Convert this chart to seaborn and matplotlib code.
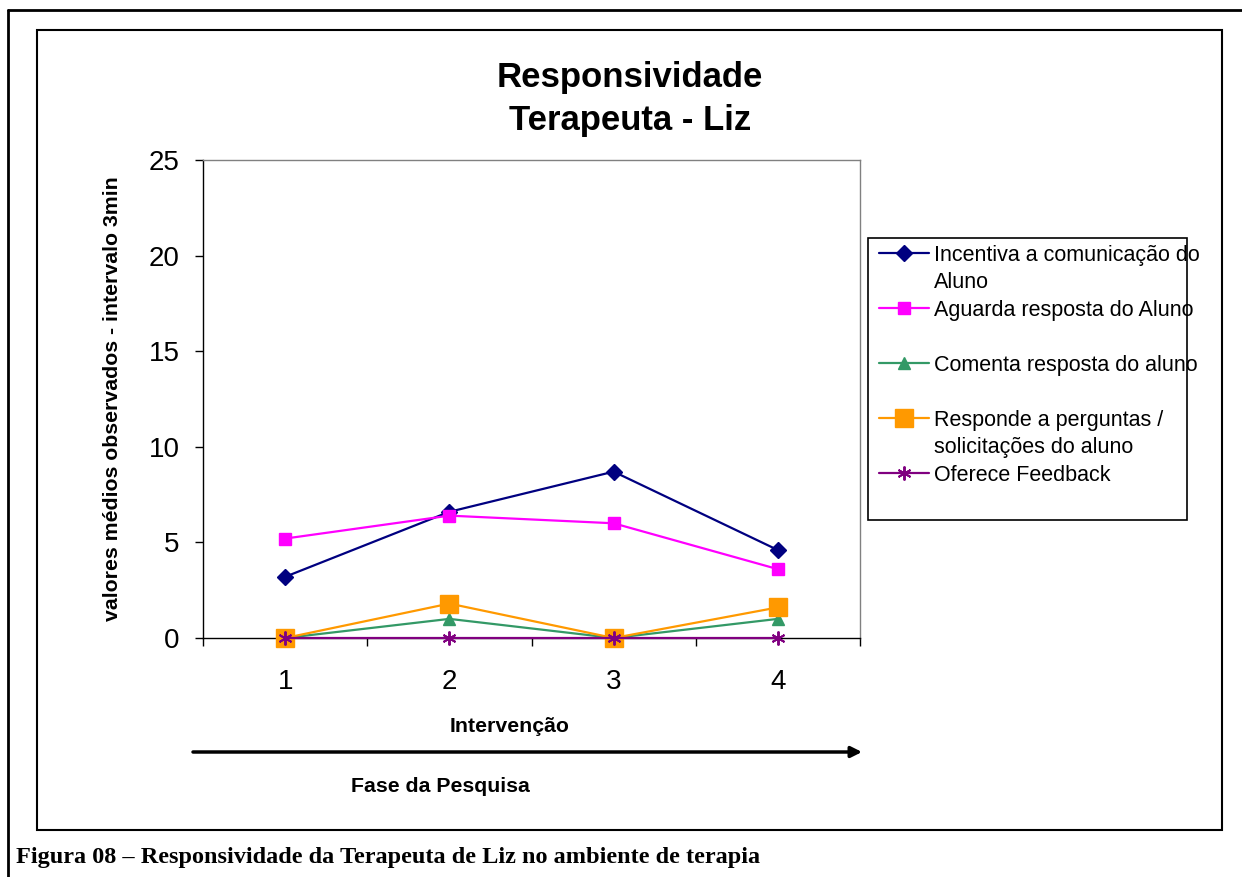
import pandas as pd
import matplotlib
matplotlib.use("Agg")
import matplotlib.pyplot as plt
import matplotlib.lines as mlines
import matplotlib.patches as mpatches
import seaborn as sns

# ===============================
# Data
# ===============================
intervencao = [1, 2, 3, 4]
tick_labels = ["1", "2", "3", "4"]

incentiva = [3.2, 6.6, 8.7, 4.6]
aguarda = [5.2, 6.4, 6.0, 3.6]
comenta = [0.0, 1.0, 0.0, 1.0]
responde = [0.0, 1.8, 0.0, 1.6]
feedback = [0.0, 0.0, 0.0, 0.0]

series_names = [
    "Incentiva a comunicação do Aluno",
    "Aguarda resposta do Aluno",
    "Comenta resposta do aluno",
    "Responde a perguntas / solicitações do aluno",
    "Oferece Feedback",
]
series_values = [incentiva, aguarda, comenta, responde, feedback]

title = "Responsividade\nTerapeuta - Liz"
ylabel = "valores médios observados - intervalo 3min"
xlabel = "Intervenção"
fase_label = "Fase da Pesquisa"
caption = "Figura 08 – Responsividade da Terapeuta de Liz no ambiente de terapia"

# long table for seaborn
df = pd.DataFrame({
    "intervencao": intervencao * len(series_names),
    "valor": [v for vals in series_values for v in vals],
    "serie": [n for n in series_names for _ in intervencao],
})

# ===============================
# Styling
# ===============================
sns.set_style("white")
plt.rcParams["font.family"] = ["Liberation Sans", "DejaVu Sans"]
plt.rcParams["text.color"] = "black"
plt.rcParams["axes.labelcolor"] = "black"
plt.rcParams["xtick.color"] = "black"
plt.rcParams["ytick.color"] = "black"

styles = {
    series_names[0]: dict(color="#000080", marker="D", markersize=8.5, mew=1),
    series_names[1]: dict(color="#FF00FF", marker="s", markersize=8, mew=1),
    series_names[2]: dict(color="#339966", marker="^", markersize=9, mew=1),
    series_names[3]: dict(color="#FF9900", marker="s", markersize=12.5, mew=1),
    series_names[4]: dict(color="#800080", marker=(6, 2, 0), markersize=10, mew=1.4),
}

W, H = 1242, 877
fig = plt.figure(figsize=(W / 100, H / 100), dpi=100)
fig.patch.set_facecolor("white")

def fx(px):
    return px / W

def fy(py):
    return 1 - py / H

ax = fig.add_axes([fx(203), fy(638), fx(860) - fx(203), fy(160) - fy(638)])

for name in series_names:
    st = styles[name]
    sns.lineplot(
        data=df[df["serie"] == name], x="intervencao", y="valor", ax=ax,
        color=st["color"], marker=st["marker"], markersize=st["markersize"],
        markeredgecolor=st["color"], markeredgewidth=st["mew"],
        linewidth=1.6, label=name, errorbar=None, clip_on=False, zorder=3,
    )

if ax.get_legend() is not None:
    ax.get_legend().remove()

ax.set_xlim(0.5, 4.5)
ax.set_ylim(0, 25)
ax.set_yticks([0, 5, 10, 15, 20, 25])
ax.set_xticks([0.5, 1.5, 2.5, 3.5, 4.5])
ax.set_xticklabels([])
ax.set_xticks(intervencao, minor=True)
ax.set_xticklabels(tick_labels, minor=True)
ax.tick_params(axis="y", which="major", direction="out", length=6, width=1,
               labelsize=20, pad=11, left=True, color="black")
ax.tick_params(axis="x", which="major", direction="out", length=6, width=1,
               bottom=True, color="black")
ax.tick_params(axis="x", which="minor", length=0, labelsize=20, pad=22)

for side in ["top", "right"]:
    ax.spines[side].set_color("#808080")
    ax.spines[side].set_linewidth(1)
for side in ["left", "bottom"]:
    ax.spines[side].set_color("black")
    ax.spines[side].set_linewidth(1)

ax.set_xlabel(xlabel, fontsize=15.3, fontweight="bold")
ax.xaxis.set_label_coords((510 - 203) / 657, (638 - 717) / 478)
ax.set_ylabel(ylabel, fontsize=15.3, fontweight="bold")
ax.yaxis.set_label_coords((122 - 203) / 657, 0.5)

# title
fig.text(fx(630), fy(99), title, ha="center", va="center", fontsize=25,
         fontweight="bold", linespacing=1.4)

# arrow and phase label
ax.annotate("", xy=(fx(862), fy(752)), xytext=(fx(193), fy(752)),
            xycoords="figure fraction", textcoords="figure fraction",
            arrowprops=dict(arrowstyle="-|>", lw=2.5, color="black",
                            mutation_scale=16, shrinkA=0, shrinkB=0))
fig.text(fx(440), fy(787), fase_label, ha="center", va="center",
         fontsize=15.3, fontweight="bold")

# legend (Excel style: rows on a fixed pitch, wrapped labels)
handles, _ = ax.get_legend_handles_labels()
blank = mlines.Line2D([], [], color="none")
leg_handles = [handles[0], blank, handles[1], blank, handles[2], blank,
               handles[3], blank, handles[4]]
leg_labels = ["Incentiva a comunicação do", "Aluno", "Aguarda resposta do Aluno", " ",
              "Comenta resposta do aluno", " ", "Responde a perguntas /",
              "solicitações do aluno", "Oferece Feedback"]
fig.legend(leg_handles, leg_labels, loc="upper left",
           bbox_to_anchor=(fx(879), fy(245)), frameon=False, fontsize=15.5,
           handlelength=2.3, handletextpad=0.25, labelspacing=0.30,
           borderpad=0, borderaxespad=0, numpoints=1)
fig.add_artist(mpatches.Rectangle((fx(868), fy(520)), fx(1187) - fx(868),
                                  fy(238) - fy(520), transform=fig.transFigure,
                                  fill=False, edgecolor="black", lw=1.2))

# chart area box and outer page frame
fig.add_artist(mpatches.Rectangle((fx(37), fy(830)), fx(1222) - fx(37),
                                  fy(30) - fy(830), transform=fig.transFigure,
                                  fill=False, edgecolor="black", lw=1.5))
fig.add_artist(mlines.Line2D([fx(8), 1], [fy(10), fy(10)],
                             transform=fig.transFigure, color="black", lw=2))
fig.add_artist(mlines.Line2D([fx(8), fx(8)], [fy(10), 0],
                             transform=fig.transFigure, color="black", lw=2))

# caption
fig.text(fx(16), fy(857), caption, ha="left", va="center", fontsize=17.5,
         fontweight="bold", family=["Liberation Serif", "DejaVu Serif"])

fig.savefig("out.png", dpi=100, facecolor="white")
